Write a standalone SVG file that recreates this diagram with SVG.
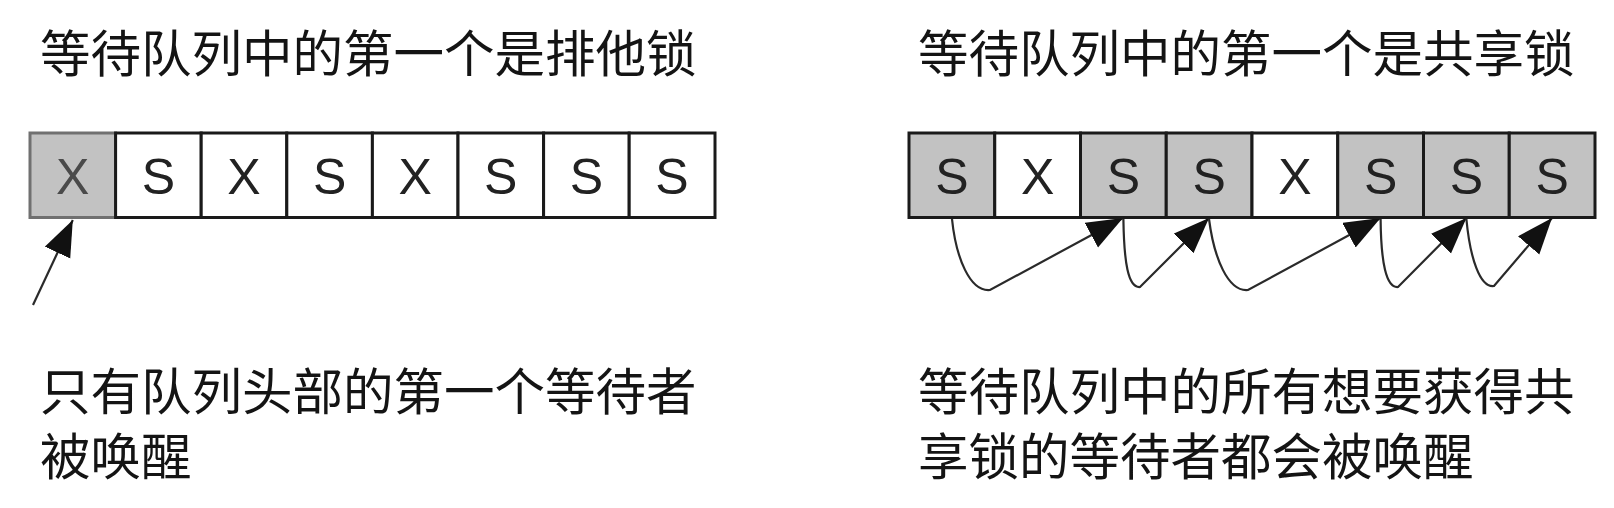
<svg xmlns="http://www.w3.org/2000/svg" width="1614" height="508" viewBox="0 0 1614 508">
<style>
.cap{font-family:"Noto Sans CJK SC","Noto Sans",sans-serif;font-size:50.5px;fill:#141414}
.cell{stroke:#1a1a1a;stroke-width:3}
.g{fill:#c2c2c2}
.w{fill:#ffffff}
.lt{font-family:"Liberation Sans",Arial,sans-serif;font-size:50px;fill:#222;text-anchor:middle}
.con{fill:none;stroke:#2a2a2a;stroke-width:2.2;marker-end:url(#ah)}
</style>
<defs>
<marker id="ah" markerUnits="userSpaceOnUse" markerWidth="36" markerHeight="30" refX="36" refY="14" orient="auto" viewBox="0 0 36 30">
<path d="M0,0 L36,14 L0,28 Z" fill="#111"/>
</marker>
</defs>
<rect width="1614" height="508" fill="#ffffff"/>
<g id="title-left"><text class="cap" x="40" y="72">等待队列中的第一个是排他锁</text></g>
<g id="title-right"><text class="cap" x="918" y="72">等待队列中的第一个是共享锁</text></g>
<g id="connectors">
<path class="con" d="M33,305 L72.8,220"/>
<path class="con" d="M952,219 C956,258 970,292 990,290 L1123,218"/>
<path class="con" d="M1123.4,219 C1124,262 1128,288 1140,287 L1209,218"/>
<path class="con" d="M1209,219 C1214,258 1228,292 1248,290 L1380.6,218"/>
<path class="con" d="M1380.6,219 C1381,262 1386,288 1398,287 L1466.4,218"/>
<path class="con" d="M1466.4,219 C1470,258 1480,288 1494,286 L1552,218"/>
</g>
<g id="queue-left">
<g id="l0"><rect class="g" x="30" y="133" width="85.6" height="84.5" stroke="#707070" stroke-width="3"/><text class="lt" x="72.8" y="194" fill="#4a4a4a" style="fill:#4a4a4a">X</text></g>
<g id="l1"><rect class="cell w" x="115.6" y="133" width="85.6" height="84.5"/><text class="lt" x="158.4" y="194">S</text></g>
<g id="l2"><rect class="cell w" x="201.2" y="133" width="85.6" height="84.5"/><text class="lt" x="244" y="194">X</text></g>
<g id="l3"><rect class="cell w" x="286.8" y="133" width="85.6" height="84.5"/><text class="lt" x="329.6" y="194">S</text></g>
<g id="l4"><rect class="cell w" x="372.4" y="133" width="85.6" height="84.5"/><text class="lt" x="415.2" y="194">X</text></g>
<g id="l5"><rect class="cell w" x="458" y="133" width="85.6" height="84.5"/><text class="lt" x="500.8" y="194">S</text></g>
<g id="l6"><rect class="cell w" x="543.6" y="133" width="85.6" height="84.5"/><text class="lt" x="586.4" y="194">S</text></g>
<g id="l7"><rect class="cell w" x="629.2" y="133" width="85.8" height="84.5"/><text class="lt" x="672" y="194">S</text></g>
</g>
<g id="queue-right">
<g id="r0"><rect class="cell g" x="909" y="133" width="85.75" height="84.5"/><text class="lt" x="951.9" y="194">S</text></g>
<g id="r1"><rect class="cell w" x="994.75" y="133" width="85.75" height="84.5"/><text class="lt" x="1037.6" y="194">X</text></g>
<g id="r2"><rect class="cell g" x="1080.5" y="133" width="85.75" height="84.5"/><text class="lt" x="1123.4" y="194">S</text></g>
<g id="r3"><rect class="cell g" x="1166.25" y="133" width="85.75" height="84.5"/><text class="lt" x="1209.1" y="194">S</text></g>
<g id="r4"><rect class="cell w" x="1252" y="133" width="85.75" height="84.5"/><text class="lt" x="1294.9" y="194">X</text></g>
<g id="r5"><rect class="cell g" x="1337.75" y="133" width="85.75" height="84.5"/><text class="lt" x="1380.6" y="194">S</text></g>
<g id="r6"><rect class="cell g" x="1423.5" y="133" width="85.75" height="84.5"/><text class="lt" x="1466.4" y="194">S</text></g>
<g id="r7"><rect class="cell g" x="1509.25" y="133" width="85.75" height="84.5"/><text class="lt" x="1552.1" y="194">S</text></g>
</g>
<g id="note-left">
<text class="cap" x="40" y="410">只有队列头部的第一个等待者</text>
<text class="cap" x="40" y="475">被唤醒</text>
</g>
<g id="note-right">
<text class="cap" x="918" y="410">等待队列中的所有想要获得共</text>
<text class="cap" x="918" y="475">享锁的等待者都会被唤醒</text>
</g>
</svg>
